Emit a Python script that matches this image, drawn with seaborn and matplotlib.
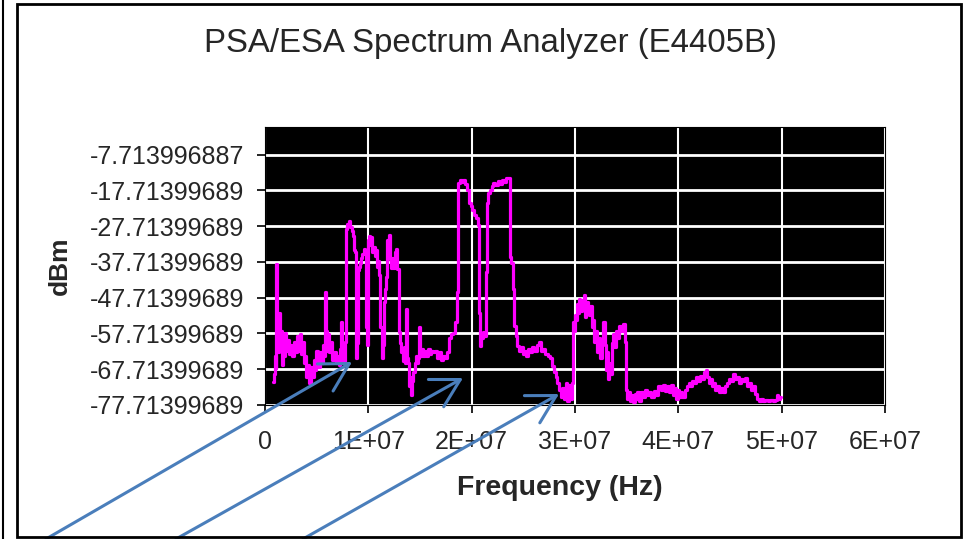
import matplotlib
matplotlib.use("Agg")
import matplotlib.pyplot as plt
import seaborn as sns
import numpy as np
import pandas as pd

# spectrum trace (frequency in MHz, level in dBm)
freq_mhz = [
    0.80, 0.90, 1.00, 1.05, 1.15, 1.22, 1.30, 1.40, 1.50, 1.60, 1.70, 1.80, 1.90, 2.00, 2.10,
    2.25, 2.40, 2.55, 2.70, 2.85, 3.00, 3.15, 3.30, 3.45, 3.60, 3.75, 3.85, 3.95, 4.05, 4.20,
    4.35, 4.50, 4.65, 4.75, 4.90, 5.05, 5.20, 5.35, 5.50, 5.65, 5.80, 5.87, 5.95, 6.05, 6.15,
    6.30, 6.45, 6.60, 6.75, 6.90, 7.05, 7.20, 7.35, 7.41, 7.50, 7.60, 7.70,
    7.85, 7.90, 8.05, 8.16, 8.30, 8.45, 8.55, 8.65, 8.75, 8.80, 8.90, 8.96, 9.05, 9.10, 9.25,
    9.35, 9.50, 9.65, 9.75, 9.83, 9.95, 10.05, 10.15, 10.25, 10.35, 10.45, 10.55, 10.65, 10.75,
    10.86, 10.95, 11.10, 11.25, 11.35, 11.45, 11.51, 11.60, 11.67, 11.75, 11.83, 11.95, 12.02,
    12.12, 12.25, 12.35, 12.50, 12.65, 12.73, 12.85, 12.99,
    13.10, 13.25, 13.38, 13.50, 13.62, 13.70, 13.80, 13.90, 14.00, 14.10, 14.18, 14.30, 14.41,
    14.55, 14.67, 14.80, 14.90, 14.99, 15.10, 15.25, 15.40, 15.55, 15.70, 15.85, 16.00, 16.15,
    16.35, 16.55, 16.75, 16.95, 17.10, 17.30, 17.50, 17.73, 17.90, 18.05, 18.25, 18.47, 18.60,
    18.76, 18.95, 19.10, 19.25, 19.45, 19.67, 19.83, 20.00, 20.15, 20.31, 20.50, 20.63, 20.70,
    20.79, 20.90, 21.00, 21.15, 21.28, 21.40, 21.55, 21.70, 21.85, 22.00, 22.20, 22.40, 22.60,
    22.80, 23.00, 23.20, 23.40, 23.63, 23.76, 23.90, 24.02, 24.18, 24.34,
    24.50, 24.66, 24.85, 25.00, 25.15, 25.31, 25.50, 25.70, 25.95, 26.20, 26.40, 26.60, 26.80,
    27.00, 27.24, 27.45, 27.65, 27.88, 28.05, 28.21, 28.40, 28.55, 28.69, 28.85, 29.00, 29.18,
    29.35, 29.50, 29.66, 29.78,
    29.88, 29.95, 30.05, 30.14, 30.25, 30.35, 30.46, 30.60, 30.75, 30.95, 31.05, 31.15, 31.30,
    31.43, 31.55, 31.70, 31.80, 31.91, 32.05, 32.20, 32.35, 32.50, 32.65, 32.82, 32.90, 33.04,
    33.15, 33.25, 33.37, 33.50, 33.60, 33.69, 33.85, 34.00, 34.17, 34.35, 34.55, 34.75, 34.90,
    34.98,
    35.10, 35.25, 35.40, 35.55, 35.70, 35.85, 35.95, 36.10, 36.30, 36.50, 36.70, 36.91, 37.10,
    37.30, 37.50, 37.70, 37.90, 38.20, 38.40, 38.60, 38.80, 39.00, 39.17, 39.35, 39.55, 39.70,
    39.85, 40.00, 40.14, 40.30, 40.50, 40.70, 40.90, 41.10, 41.25, 41.42, 41.60, 41.80, 42.00,
    42.20, 42.40, 42.60, 42.72, 42.85, 43.00, 43.15, 43.30, 43.50, 43.68, 43.85, 44.00, 44.20,
    44.40, 44.65, 44.85, 45.00, 45.20, 45.45, 45.60, 45.80, 46.00, 46.20, 46.40, 46.58, 46.75,
    46.90, 47.10, 47.30, 47.55, 47.70, 47.90, 48.10, 48.30, 48.52, 48.75, 49.00, 49.25, 49.49,
    49.60, 49.75, 49.97,
]

level_dbm = [
    -71.4, -69.0, -64.0, -67.5, -38.2, -55.0, -63.0, -52.0, -62.0, -57.0, -66.5, -58.0, -64.0, -57.5, -62.5,
    -59.5, -63.5, -61.0, -64.0, -60.0, -63.0, -58.5, -62.5, -58.0, -63.5, -60.0, -66.0, -64.0, -70.0, -66.5,
    -71.5, -67.0, -70.0, -65.0, -68.0, -62.5, -67.0, -63.0, -66.0, -61.0, -64.0, -46.0, -57.0, -62.5, -58.0,
    -63.0, -60.0, -65.0, -63.0, -66.0, -64.0, -66.5, -62.0, -54.6, -65.5, -63.0, -65.5,
    -60.0, -28.5, -27.0, -26.3, -28.0, -29.0, -30.5, -34.5, -35.0, -62.0, -64.5, -60.5, -40.0, -39.0, -38.0,
    -36.5, -35.5, -34.0, -35.0, -55.8, -61.0, -31.5, -30.5, -33.0, -30.8, -35.0, -33.5, -36.0, -34.5,
    -39.0, -37.5, -41.5, -56.0, -64.5, -61.0, -55.5, -49.0, -45.2, -42.0, -31.5, -34.5, -30.2,
    -37.0, -39.5, -36.5, -39.5, -35.0, -34.2, -39.6, -57.4,
    -60.5, -63.0, -65.5, -61.5, -66.0, -51.0, -64.5, -66.0, -72.5, -70.0, -75.0, -71.0, -68.6,
    -66.0, -64.0, -66.0, -64.5, -56.0, -64.0, -62.0, -64.0, -62.5, -64.0, -62.0, -63.5, -62.5,
    -63.0, -62.5, -64.5, -63.0, -65.0, -64.0, -64.5, -63.0, -59.0, -58.0, -57.5, -54.6, -46.1,
    -15.7, -14.8, -15.5, -14.8, -16.0, -17.6, -21.3, -22.0, -23.2, -24.5, -25.5, -27.4, -40.5,
    -52.0, -61.1, -59.0, -57.4, -58.5, -40.5, -21.3, -18.5, -17.6, -16.5, -15.7, -16.3, -15.2,
    -15.9, -14.8, -15.5, -14.3, -14.3, -36.4, -38.0, -45.2, -55.5, -58.5,
    -61.1, -62.5, -61.5, -63.5, -62.5, -64.0, -62.0, -63.0, -61.5, -62.5, -61.0, -60.2, -62.5,
    -62.0, -63.5, -64.0, -64.5, -66.7, -68.6, -70.0, -71.5, -73.5, -75.6, -73.0, -76.0, -71.5,
    -76.5, -72.0, -76.0, -71.5,
    -54.6, -57.0, -52.5, -54.0, -49.5, -52.0, -48.0, -51.5, -48.5, -47.0, -53.0, -49.0, -51.0,
    -52.5, -50.0, -56.0, -54.0, -60.0, -57.0, -63.0, -59.0, -64.5, -60.0, -54.6, -61.0, -68.0,
    -63.0, -70.5, -66.0, -69.0, -60.5, -58.0, -61.5, -57.0, -59.0, -55.5, -57.0, -55.0, -60.0,
    -73.5,
    -76.0, -74.0, -76.5, -75.0, -76.8, -74.5, -76.0, -74.2, -76.5, -74.0, -75.5, -73.5, -75.0,
    -74.0, -75.5, -73.8, -75.0, -72.5, -73.5, -72.0, -73.8, -72.5, -74.0, -72.0, -75.0, -73.0,
    -76.0, -73.5, -75.5, -74.0, -75.5, -73.5, -72.5, -71.5, -72.5, -71.0, -71.5, -70.0, -71.0,
    -69.5, -70.5, -68.5, -67.9, -70.0, -71.5, -70.5, -72.5, -71.5, -73.5, -72.5, -74.0, -73.0,
    -74.0, -72.5, -71.5, -70.5, -71.0, -69.0, -70.5, -70.0, -71.5, -70.5, -71.0, -70.3, -72.5,
    -71.5, -73.5, -72.5, -74.5, -76.0, -76.5, -76.0, -76.5, -76.2, -76.5, -76.2, -76.5, -76.3,
    -75.0, -76.0, -75.5,
]

# axis ticks as printed on the chart
x_ticks = [0, 1e7, 2e7, 3e7, 4e7, 5e7, 6e7]
x_tick_labels = ["0", "1E+07", "2E+07", "3E+07", "4E+07", "5E+07", "6E+07"]
y_tick_labels = ["-7.713996887", "-17.71399689", "-27.71399689", "-37.71399689",
                 "-47.71399689", "-57.71399689", "-67.71399689", "-77.71399689"]

df = pd.DataFrame({"Frequency": np.array(freq_mhz) * 1e6, "dBm": level_dbm})

sns.set_style("white")
plt.rcParams["font.family"] = ["Liberation Sans", "DejaVu Sans"]

fig = plt.figure(figsize=(9.67, 5.39), dpi=100)
ax = fig.add_axes([265 / 967, 134 / 539, 620 / 967, 278 / 539])
ax.set_facecolor("black")

sns.lineplot(data=df, x="Frequency", y="dBm", ax=ax, color="#FF00FF", linewidth=2.3,
             drawstyle="steps-mid", estimator=None, sort=False)

y_ticks = [float(s) for s in y_tick_labels]
ax.set_xlim(0, 6e7)
ax.set_ylim(-77.71399689, 0)
ax.set_xticks(x_ticks)
ax.set_xticklabels(x_tick_labels)
ax.set_yticks(y_ticks)
ax.set_yticklabels(y_tick_labels)

ax.grid(True, axis="y", color="white", linewidth=2)
ax.grid(True, axis="x", color="white", linewidth=1.5)
ax.set_axisbelow(True)

ax.tick_params(axis="both", direction="out", length=6, width=1.2, color="black",
               labelsize=18, bottom=True, left=True)
ax.tick_params(axis="x", pad=12)
ax.tick_params(axis="y", pad=9)
for s in ax.spines.values():
    s.set_color("black")

ax.set_xlabel("Frequency (Hz)", fontsize=20.5, fontweight="bold")
ax.set_ylabel("dBm", fontsize=19, fontweight="bold")
ax.xaxis.set_label_coords(295 / 620, -70 / 278)
ax.yaxis.set_label_coords(-193 / 620, 0.5)

fig.text(490 / 967, 487 / 539, "PSA/ESA Spectrum Analyzer (E4405B)", fontsize=23.8,
         ha="center", va="baseline")

# chart frame and the stray line at the far left
fig.add_artist(plt.Rectangle((17 / 967, 2 / 539), 944 / 967, 533 / 539,
                             transform=fig.transFigure, fill=False,
                             edgecolor="black", linewidth=2))
fig.add_artist(plt.Line2D([3 / 967, 3 / 967], [0, 1], transform=fig.transFigure,
                          color="black", linewidth=1.5))

# blue callout arrows
arrow_tails = [(46, 0), (176, 0), (303, 0)]
arrow_tips = [(352, 177), (463, 161), (559, 145)]
for tail, tip in zip(arrow_tails, arrow_tips):
    ax.annotate("", xy=tip, xytext=tail, xycoords="figure pixels",
                textcoords="figure pixels", annotation_clip=False,
                arrowprops=dict(arrowstyle="->,head_length=0.8,head_width=0.45",
                                color="#4A7EBB", lw=2.2, mutation_scale=25,
                                shrinkA=0, shrinkB=0))

fig.savefig("out.png", dpi=100)
